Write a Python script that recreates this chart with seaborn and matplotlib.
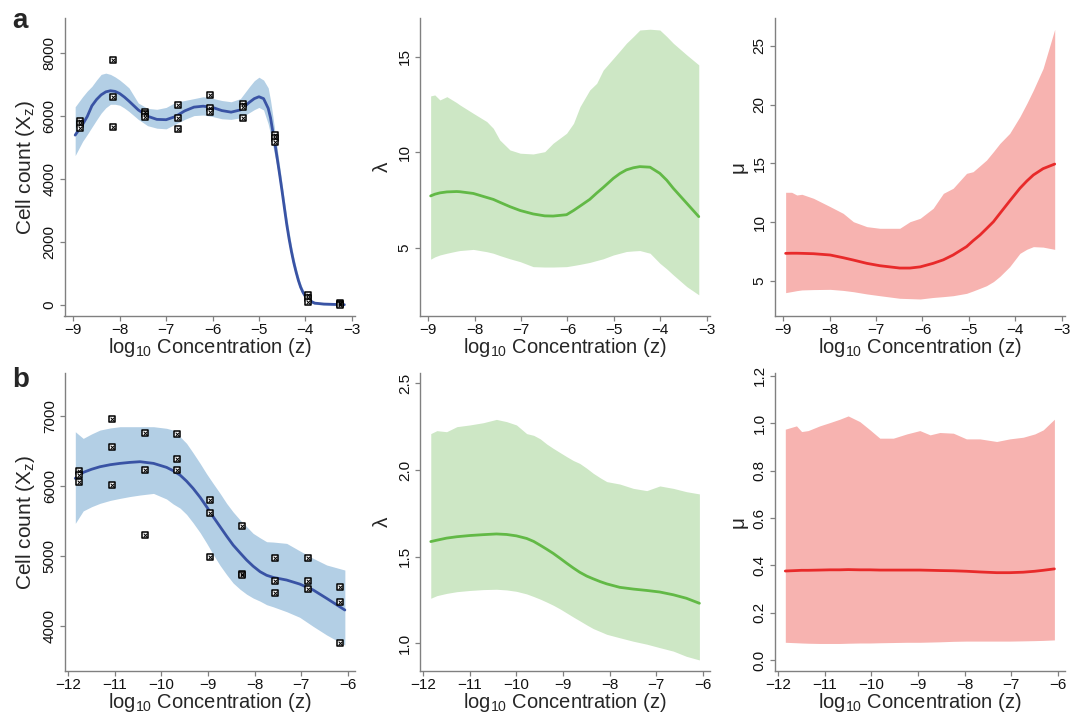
import numpy as np
import seaborn as sns
import matplotlib.pyplot as plt

# ---- panel a: cell counts ----
a_dose = [-8.85, -8.15, -7.45, -6.75, -6.05, -5.35, -4.65, -3.95, -3.25]
a_pts_x = [d for d in a_dose for _ in range(3)]
a_pts_y = [5850, 5740, 5620,
           7790, 6610, 5660,
           6150, 6070, 5990,
           6370, 5950, 5600,
           6690, 6250, 6140,
           6380, 6290, 5940,
           5400, 5300, 5190,
           320, 210, 110,
           50, 20, 0]

a_x = [-8.96, -8.8, -8.7, -8.6, -8.5, -8.4, -8.3, -8.2, -8.1, -8.0, -7.9, -7.8,
       -7.6, -7.4, -7.2, -7.0, -6.8, -6.6, -6.4, -6.2, -6.0, -5.8, -5.6, -5.4,
       -5.2, -5.1, -5.0, -4.9, -4.8, -4.75, -4.7, -4.65, -4.6, -4.55, -4.5, -4.45,
       -4.4, -4.35, -4.3, -4.25, -4.2, -4.15, -4.1, -4.05, -4.0, -3.9, -3.8, -3.6,
       -3.4, -3.16]
a_mean = [5400, 5740, 5990, 6330, 6530, 6680, 6775, 6810, 6790, 6720, 6610, 6480,
          6200, 6000, 5900, 5890, 5990, 6170, 6290, 6320, 6280, 6180, 6130, 6200,
          6450, 6560, 6620, 6560, 6250, 5950, 5500, 5080, 4600, 4110, 3600, 3070,
          2550, 2100, 1700, 1350, 1050, 780, 560, 400, 280, 130, 60, 30,
          20, 10]
a_upper = [6300, 6620, 6800, 6950, 7150, 7330, 7370, 7330, 7250, 7150, 7030, 6900,
           6420, 6250, 6220, 6280, 6440, 6500, 6560, 6620, 6570, 6500, 6460, 6560,
           6950, 7130, 7240, 7150, 6900, 6500, 6000, 5450, 4900, 4380, 3850, 3320,
           2800, 2330, 1900, 1530, 1200, 920, 680, 500, 370, 200, 110, 60,
           45, 40]
a_lower = [4750, 5200, 5420, 5650, 5880, 6100, 6270, 6380, 6380, 6350, 6260, 6150,
           5900, 5700, 5620, 5600, 5750, 5900, 6020, 6040, 5990, 5920, 5900, 5950,
           6120, 6210, 6280, 6200, 5750, 5420, 5050, 4680, 4300, 3830, 3350, 2820,
           2300, 1880, 1500, 1170, 900, 650, 450, 300, 190, 70, 20, 0,
           -5, -10]

# ---- panel a: lambda ----
al_x = [-8.95, -8.86, -8.75, -8.6, -8.39, -8.32, -8.03, -7.74, -7.6, -7.46, -7.24,
        -7.02, -6.74, -6.49, -6.31, -6.02, -5.87, -5.73, -5.52, -5.37, -5.23,
        -5.01, -4.87, -4.73, -4.58, -4.44, -4.22, -4.01, -3.86, -3.72, -3.43, -3.17]
al_mean = [7.73, 7.82, 7.89, 7.94, 7.96, 7.95, 7.86, 7.65, 7.55, 7.4, 7.17,
           6.97, 6.79, 6.69, 6.68, 6.75, 6.97, 7.2, 7.55, 7.88, 8.17,
           8.65, 8.9, 9.09, 9.2, 9.26, 9.23, 8.91, 8.55, 8.13, 7.35, 6.65]
al_upper = [12.95, 13.0, 12.74, 12.91, 12.6, 12.48, 12.04, 11.61, 11.26, 10.65, 10.13,
            9.96, 9.92, 10.04, 10.48, 11.0, 11.52, 12.39, 13.26, 13.61, 14.3,
            14.91, 15.3, 15.7, 16.05, 16.39, 16.43, 16.39, 16.05, 15.7, 15.09, 14.57]
al_lower = [4.43, 4.55, 4.65, 4.74, 4.85, 4.88, 4.94, 4.82, 4.74, 4.62, 4.45,
            4.3, 4.04, 4.02, 4.02, 4.04, 4.1, 4.16, 4.26, 4.36, 4.45,
            4.65, 4.74, 4.83, 4.86, 4.88, 4.74, 4.22, 3.92, 3.61, 3.0, 2.57]

# ---- panel a: mu ----
am_x = [-8.95, -8.82, -8.71, -8.6, -8.35, -7.99, -7.71, -7.49, -7.2, -6.92, -6.49,
        -6.27, -6.05, -5.77, -5.55, -5.34, -5.05, -4.91, -4.76, -4.62, -4.47, -4.33,
        -4.12, -3.9, -3.75, -3.61, -3.4, -3.15]
am_mean = [7.35, 7.36, 7.36, 7.35, 7.32, 7.21, 6.98, 6.78, 6.5, 6.3, 6.1,
           6.1, 6.2, 6.5, 6.8, 7.21, 7.92, 8.42, 8.91, 9.45, 10.04, 10.75,
           11.8, 12.88, 13.5, 14.01, 14.55, 14.94]
am_upper = [12.54, 12.54, 12.31, 12.37, 12.03, 11.32, 10.75, 10.04, 9.62, 9.48, 9.48,
            10.04, 10.33, 11.18, 12.45, 12.88, 14.15, 14.29, 14.8, 15.28, 16.0, 16.7,
            17.55, 18.97, 20.1, 21.23, 23.07, 26.39]
am_lower = [4.01, 4.1, 4.18, 4.24, 4.27, 4.29, 4.2, 4.09, 3.9, 3.75, 3.53,
            3.5, 3.47, 3.6, 3.67, 3.75, 3.95, 4.15, 4.38, 4.6, 4.95, 5.4,
            6.22, 7.35, 7.7, 7.92, 7.88, 7.69]

# ---- panel b: cell counts ----
b_dose = [-11.76, -11.06, -10.36, -9.66, -8.96, -8.26, -7.56, -6.86, -6.16]
b_pts_x = [d for d in b_dose for _ in range(3)]
b_pts_y = [6210, 6160, 6060,
           6950, 6550, 6005,
           6760, 6230, 5295,
           6740, 6380, 6230,
           5800, 5605, 4985,
           5425, 4740, 4725,
           4965, 4640, 4465,
           4965, 4640, 4525,
           4555, 4335, 3750]

b_x = [-11.85, -11.68, -11.5, -11.32, -11.1, -10.89, -10.68, -10.46, -10.17, -9.89,
       -9.75, -9.6, -9.46, -9.32, -9.17, -9.03, -8.89, -8.74, -8.6, -8.46, -8.31,
       -8.17, -8.03, -7.88, -7.74, -7.6, -7.31, -7.03, -6.74, -6.45, -6.06]
b_mean = [6105, 6190, 6235, 6271, 6300, 6319, 6333, 6343, 6319, 6262,
          6215, 6152, 6065, 5962, 5835, 5700, 5558, 5414, 5280, 5152, 5040,
          4938, 4850, 4771, 4720, 4690, 4652, 4595, 4510, 4390, 4224]
b_upper = [6771, 6676, 6740, 6795, 6825, 6843, 6843, 6843, 6843, 6820,
           6795, 6700, 6605, 6470, 6319, 6170, 6033, 5890, 5748, 5625, 5510,
           5415, 5319, 5255, 5200, 5195, 5176, 5070, 4962, 4867, 4795]
b_lower = [5462, 5640, 5700, 5748, 5790, 5819, 5845, 5867, 5890, 5810,
           5740, 5680, 5590, 5470, 5330, 5180, 5020, 4860, 4730, 4610, 4520,
           4450, 4395, 4350, 4300, 4270, 4200, 4120, 3990, 3867, 3724]

# ---- panel b: lambda ----
bl_x = [-11.84, -11.71, -11.5, -11.28, -11.0, -10.71, -10.43, -10.21, -10.0, -9.78,
        -9.63, -9.49, -9.35, -9.21, -9.06, -8.92, -8.78, -8.64, -8.49, -8.35, -8.2,
        -8.06, -7.78, -7.49, -7.2, -6.92, -6.63, -6.35, -6.07]
bl_mean = [1.587, 1.595, 1.607, 1.615, 1.622, 1.627, 1.631, 1.628, 1.62, 1.605,
           1.588, 1.566, 1.543, 1.519, 1.49, 1.462, 1.435, 1.41, 1.388, 1.372, 1.356,
           1.343, 1.323, 1.313, 1.305, 1.296, 1.28, 1.26, 1.231]
bl_upper = [2.21, 2.227, 2.221, 2.25, 2.26, 2.273, 2.292, 2.279, 2.26, 2.21,
            2.2, 2.18, 2.15, 2.125, 2.1, 2.077, 2.055, 2.038, 2.01, 1.981, 1.955,
            1.933, 1.919, 1.894, 1.881, 1.908, 1.894, 1.875, 1.862]
bl_lower = [1.26, 1.275, 1.288, 1.298, 1.305, 1.31, 1.312, 1.308, 1.3, 1.285,
            1.27, 1.255, 1.238, 1.22, 1.198, 1.175, 1.152, 1.13, 1.106, 1.085, 1.068,
            1.052, 1.032, 1.012, 0.995, 0.975, 0.955, 0.925, 0.904]

# ---- panel b: mu ----
bm_x = [-11.85, -11.61, -11.5, -11.36, -11.11, -10.89, -10.68, -10.5, -10.25, -10.03,
        -9.82, -9.53, -9.24, -8.96, -8.74, -8.53, -8.24, -7.96, -7.67, -7.31,
        -7.03, -6.74, -6.49, -6.31, -6.07]
bm_mean = [0.376, 0.378, 0.379, 0.379, 0.38, 0.381, 0.381, 0.382, 0.381, 0.381,
           0.38, 0.38, 0.38, 0.38, 0.379, 0.378, 0.377, 0.375, 0.372, 0.369,
           0.369, 0.371, 0.375, 0.379, 0.385]
bm_upper = [0.975, 0.989, 0.965, 0.969, 0.989, 1.003, 1.017, 1.031, 1.007, 0.972,
            0.937, 0.937, 0.955, 0.969, 0.951, 0.961, 0.958, 0.934, 0.934, 0.923,
            0.934, 0.941, 0.955, 0.972, 1.017]
bm_lower = [0.075, 0.073, 0.072, 0.071, 0.07, 0.07, 0.07, 0.071, 0.072, 0.072,
            0.073, 0.074, 0.075, 0.075, 0.076, 0.077, 0.079, 0.08, 0.08, 0.08,
            0.08, 0.081, 0.082, 0.083, 0.085]

blue, blue_band = "#3953a4", "#b3cfe5"
green, green_band = "#62b946", "#cde7c5"
red, red_band = "#e82a2a", "#f7b3b0"

sns.set_style("ticks")
plt.rcParams["font.family"] = ["Liberation Sans", "DejaVu Sans"]
plt.rcParams["mathtext.default"] = "regular"

W, H = 1072, 712
fig = plt.figure(figsize=(W / 100, H / 100), dpi=100)


def make_ax(l, t, r, b):
    return fig.add_axes([l / W, 1 - b / H, (r - l) / W, (b - t) / H])


def style(ax, xlim, ylim, xticks, yticks, ylabel, ylabels=None):
    ax.set_xlim(*xlim)
    ax.set_ylim(*ylim)
    ax.set_xticks(xticks)
    ax.set_yticks(yticks)
    if ylabels is not None:
        ax.set_yticklabels(ylabels)
    sns.despine(ax=ax)
    for s in ["left", "bottom"]:
        ax.spines[s].set_color("#808080")
        ax.spines[s].set_linewidth(1.0)
    ax.tick_params(length=3.8, width=0.9, color="#808080", labelsize=11,
                   labelcolor="#111111", pad=1.8)
    for lab in ax.get_yticklabels():
        lab.set_rotation(90)
        lab.set_va("center")
    ax.set_xlabel(r"log$_{10}$ Concentration (z)", fontsize=14.5, labelpad=-1)
    ax.set_ylabel(ylabel, fontsize=15, labelpad=4)


def band(ax, x, lo, hi, mean, fill, line):
    ax.fill_between(x, lo, hi, color=fill, lw=0)
    sns.lineplot(x=x, y=mean, ax=ax, color=line, lw=2.0, estimator=None)


def points(ax, px, py):
    sns.scatterplot(x=px, y=py, ax=ax, marker="s", s=22, color="white",
                    edgecolor="black", linewidth=1.1, zorder=5)
    sns.scatterplot(x=px, y=py, ax=ax, marker="x", s=7, color="black",
                    linewidth=0.7, zorder=6)


a_xlim = (-9.19, -2.93)
b_xlim = (-12.08, -5.84)
a_xt = [-9, -8, -7, -6, -5, -4, -3]
b_xt = [-12, -11, -10, -9, -8, -7, -6]

ax = make_ax(64.5, 18.3, 355.0, 315.7)
band(ax, a_x, a_lower, a_upper, a_mean, blue_band, blue)
points(ax, a_pts_x, a_pts_y)
style(ax, a_xlim, (-340, 9113), a_xt, [0, 2000, 4000, 6000, 8000], r"Cell count (X$_z$)")

ax = make_ax(419.5, 18.3, 709.9, 315.7)
band(ax, al_x, al_lower, al_upper, al_mean, green_band, green)
style(ax, a_xlim, (1.48, 17.0), a_xt, [5, 10, 15], "λ")

ax = make_ax(774.5, 18.3, 1064.9, 315.7)
band(ax, am_x, am_lower, am_upper, am_mean, red_band, red)
style(ax, a_xlim, (2.05, 27.33), a_xt, [5, 10, 15, 20, 25], "μ")

ax = make_ax(64.6, 373.3, 355.1, 670.7)
band(ax, b_x, b_lower, b_upper, b_mean, blue_band, blue)
points(ax, b_pts_x, b_pts_y)
style(ax, b_xlim, (3357, 7606), b_xt, [4000, 5000, 6000, 7000], r"Cell count (X$_z$)")

ax = make_ax(419.6, 373.3, 710.1, 670.7)
band(ax, bl_x, bl_lower, bl_upper, bl_mean, green_band, green)
style(ax, b_xlim, (0.842, 2.558), b_xt, [1.0, 1.5, 2.0, 2.5], "λ",
      ["1.0", "1.5", "2.0", "2.5"])

ax = make_ax(774.6, 373.3, 1065.1, 670.7)
band(ax, bm_x, bm_lower, bm_upper, bm_mean, red_band, red)
style(ax, b_xlim, (-0.045, 1.211), b_xt, [0.0, 0.2, 0.4, 0.6, 0.8, 1.0, 1.2], "μ",
      ["0.0", "0.2", "0.4", "0.6", "0.8", "1.0", "1.2"])

fig.text(12 / W, 1 - 28 / H, "a", fontsize=20, fontweight="bold")
fig.text(12 / W, 1 - 387 / H, "b", fontsize=20, fontweight="bold")

fig.savefig("out.png", dpi=100)
